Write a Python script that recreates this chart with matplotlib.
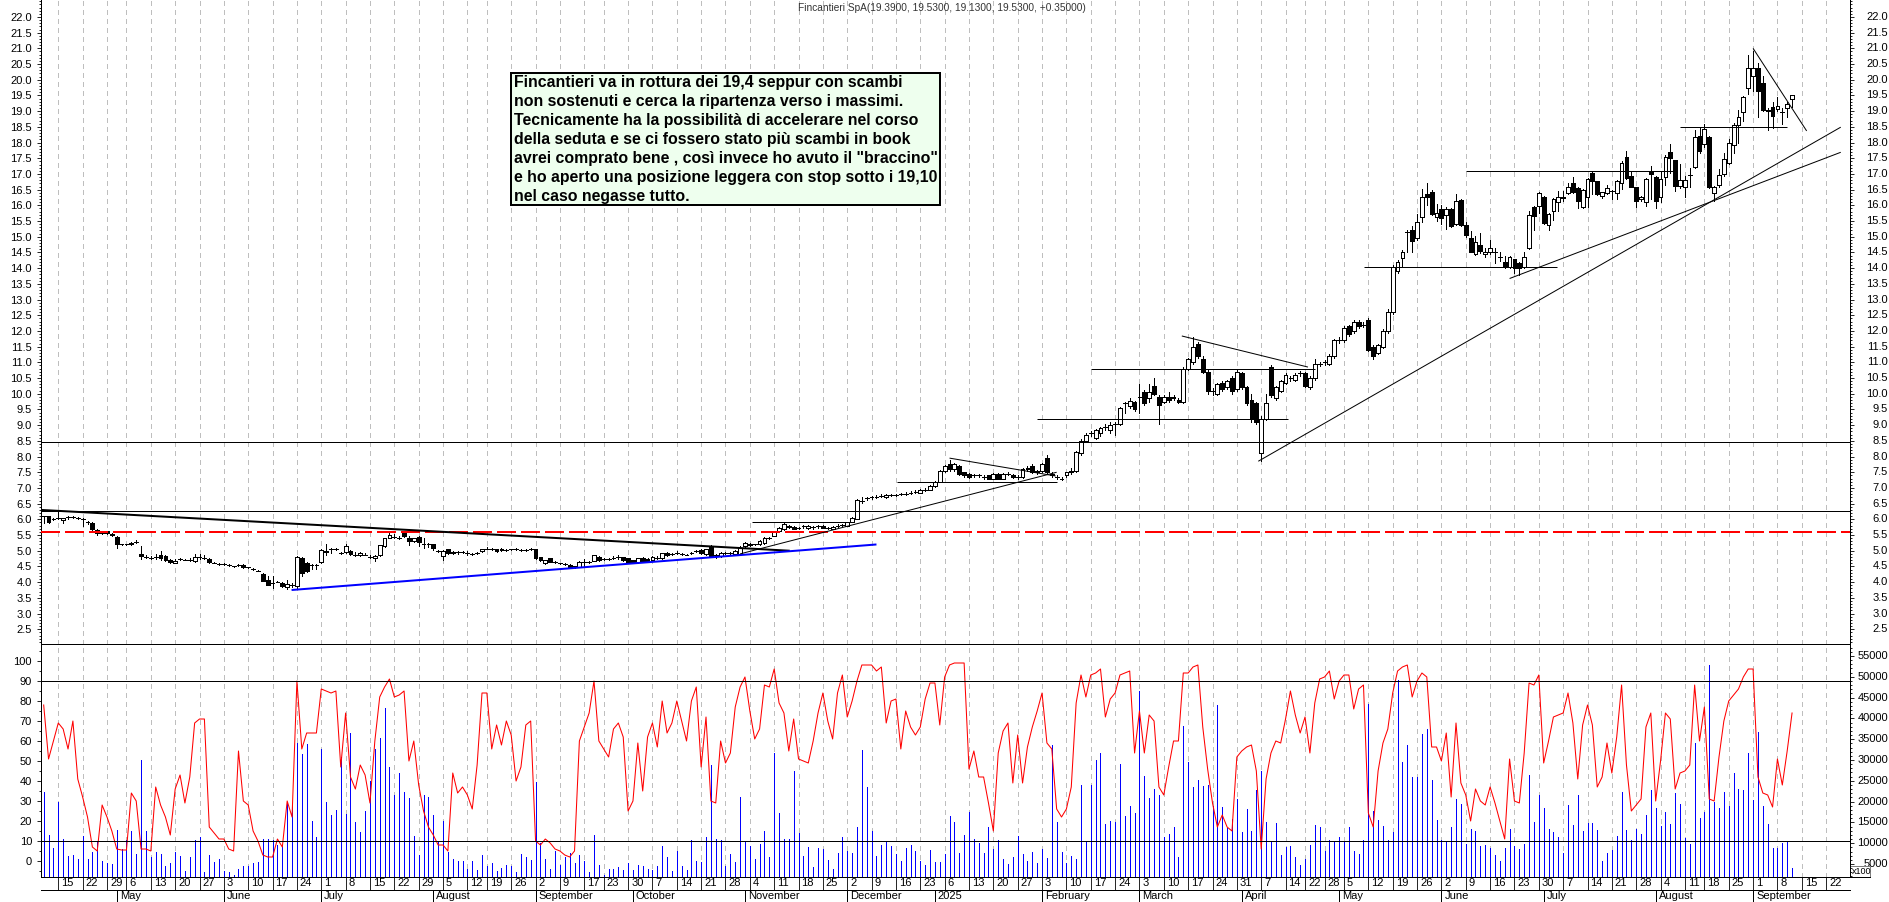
# Fincantieri SpA - candele giornaliere, RSI e volumi
import numpy as np
import matplotlib
matplotlib.use("Agg")
import matplotlib.pyplot as plt
from matplotlib.patches import Rectangle

# ----------------- dati -----------------
opens = [
    6.10,6.10,6.00,6.05,5.98,6.06,6.07,6.04,6.00,5.92,
    5.89,5.65,5.60,5.62,5.54,5.45,5.20,5.20,5.20,5.28,
    4.90,4.80,4.78,4.80,4.88,4.82,4.70,4.62,4.73,4.72,
    4.72,4.68,4.80,4.78,4.75,4.62,4.58,4.58,4.55,4.50,
    4.55,4.55,4.47,4.42,4.37,4.25,4.08,3.97,4.02,3.97,
    3.83,3.92,3.87,4.78,4.60,4.55,4.55,4.65,4.95,5.05,
    5.05,4.93,4.95,5.00,4.88,4.85,4.88,4.80,4.78,4.85,
    5.15,5.42,5.45,5.42,5.55,5.42,5.32,5.45,5.20,5.20,
    5.20,5.00,4.83,5.05,4.92,4.95,4.95,4.93,4.90,4.93,
    4.98,5.07,5.05,5.05,5.02,5.03,5.05,5.05,5.03,5.01,
    5.05,5.05,4.79,4.60,4.76,4.63,4.60,4.57,4.55,4.50,
    4.49,4.65,4.65,4.68,4.80,4.75,4.74,4.76,4.79,4.79,
    4.76,4.70,4.63,4.78,4.75,4.70,4.76,4.76,4.94,4.90,
    4.93,4.90,4.88,4.94,4.98,5.02,4.90,5.13,4.86,4.83,
    4.94,4.92,4.90,4.90,5.15,5.23,5.20,5.20,5.25,5.40,
    5.48,5.62,5.70,5.80,5.75,5.72,5.78,5.72,5.75,5.78,
    5.80,5.72,5.70,5.80,5.82,5.80,5.92,6.02,6.60,6.68,
    6.70,6.72,6.75,6.70,6.78,6.78,6.80,6.82,6.85,6.88,
    6.85,6.95,6.95,7.05,7.20,7.55,7.75,7.60,7.70,7.50,
    7.45,7.40,7.40,7.35,7.40,7.30,7.45,7.30,7.45,7.42,
    7.35,7.35,7.60,7.70,7.50,7.55,7.95,7.45,7.35,7.30,
    7.40,7.50,7.55,8.10,8.50,8.75,8.60,8.75,8.95,8.85,
    9.05,9.05,9.70,9.62,9.75,9.90,10.07,9.88,10.25,9.90,
    9.75,9.90,9.85,9.80,9.75,10.80,11.00,11.60,11.10,10.70,
    10.10,10.00,10.35,10.20,10.50,10.15,10.65,10.20,9.80,9.70,
    8.10,9.20,10.85,9.85,10.10,10.35,10.50,10.45,10.65,10.65,
    10.20,10.50,10.95,11.00,10.95,11.20,11.70,11.70,12.15,12.00,
    12.30,12.20,12.35,11.50,11.30,11.50,12.00,12.60,13.90,14.32,
    15.15,15.22,14.96,15.64,16.37,16.42,15.64,15.88,15.70,15.89,
    15.40,16.18,15.38,14.95,14.45,14.74,14.45,14.53,14.50,14.36,
    14.20,14.04,14.28,14.15,14.04,14.63,15.94,15.99,16.28,15.39,
    15.82,16.12,16.26,16.38,16.72,16.54,15.96,16.28,17.02,16.76,
    16.30,16.40,16.47,16.38,16.70,17.53,16.94,16.57,16.19,16.11,
    17.06,16.89,16.26,16.91,17.69,17.43,16.63,16.57,16.98,17.23,
    18.21,17.96,18.17,16.38,16.64,16.99,17.36,17.91,18.55,18.96,
    19.73,20.11,20.39,19.91,19.05,19.13,19.06,18.96,19.09,19.39,
]
closes = [
    6.10,5.91,6.00,6.05,6.04,6.06,6.07,6.04,6.00,5.92,
    5.68,5.55,5.55,5.55,5.50,5.20,5.20,5.20,5.26,5.28,
    4.83,4.80,4.78,4.80,4.78,4.72,4.65,4.68,4.73,4.72,
    4.72,4.80,4.80,4.78,4.65,4.62,4.58,4.58,4.55,4.50,
    4.55,4.47,4.47,4.42,4.37,4.05,3.92,3.97,4.02,3.88,
    3.93,3.92,4.80,4.30,4.35,4.55,4.55,5.03,5.00,5.05,
    5.05,4.93,5.15,4.90,4.88,4.93,4.88,4.80,4.83,5.17,
    5.40,5.50,5.45,5.42,5.48,5.30,5.40,5.28,5.20,5.20,
    5.08,5.00,5.00,4.92,4.97,4.95,4.95,4.93,4.90,4.93,
    5.05,5.07,5.05,4.98,5.06,5.03,5.05,5.05,5.03,5.03,
    5.05,4.76,4.70,4.70,4.65,4.63,4.60,4.57,4.47,4.50,
    4.65,4.65,4.65,4.86,4.70,4.75,4.74,4.76,4.79,4.70,
    4.63,4.63,4.76,4.65,4.65,4.80,4.76,4.92,4.85,4.90,
    4.93,4.90,4.88,4.94,4.98,4.92,5.04,4.83,4.86,4.94,
    4.94,4.92,5.00,5.08,5.25,5.18,5.20,5.32,5.42,5.40,
    5.60,5.72,5.85,5.75,5.70,5.72,5.78,5.80,5.75,5.78,
    5.74,5.72,5.75,5.80,5.82,5.90,6.05,6.62,6.60,6.68,
    6.70,6.72,6.75,6.78,6.78,6.78,6.80,6.82,6.85,6.88,
    6.95,6.95,7.05,7.20,7.55,7.70,7.60,7.75,7.45,7.40,
    7.35,7.40,7.40,7.35,7.30,7.45,7.30,7.45,7.45,7.35,
    7.35,7.60,7.65,7.50,7.55,7.75,7.50,7.40,7.35,7.30,
    7.50,7.55,8.15,8.50,8.70,8.75,8.85,8.92,8.95,9.00,
    9.05,9.55,9.70,9.78,9.50,9.90,9.70,10.05,10.00,9.65,
    9.90,9.80,9.90,9.75,10.80,11.10,11.50,11.20,10.70,10.10,
    10.10,10.30,10.15,10.40,10.10,10.70,10.20,9.70,9.20,9.10,
    9.20,9.70,9.95,10.20,10.40,10.60,10.50,10.60,10.65,10.25,
    10.50,10.95,10.95,11.00,11.20,11.70,11.70,12.10,11.90,12.30,
    12.15,12.20,11.40,11.20,11.55,12.00,12.60,14.05,14.20,14.51,
    15.15,14.85,15.46,16.28,16.28,15.73,15.75,15.61,15.88,15.33,
    16.15,15.36,15.06,14.53,14.82,14.56,14.53,14.64,14.50,14.36,
    14.04,14.36,14.02,13.99,14.36,15.69,15.67,16.38,15.45,15.74,
    16.21,16.28,16.22,16.60,16.44,16.15,16.49,16.83,16.76,16.36,
    16.41,16.56,16.47,16.76,17.36,16.86,16.60,16.15,16.26,16.83,
    17.00,16.15,16.83,17.55,17.50,16.63,16.81,16.81,16.98,18.19,
    17.74,18.43,16.60,16.60,16.97,17.47,17.98,18.56,18.81,19.45,
    20.39,20.39,19.63,19.04,19.00,18.86,19.15,18.96,19.22,19.53,
]
highs = [
    6.12,6.12,6.03,6.27,6.05,6.10,6.12,6.07,6.05,5.96,
    5.90,5.68,5.62,5.64,5.56,5.47,5.22,5.23,5.28,5.33,
    5.15,4.85,4.82,4.90,5.00,4.85,4.75,4.75,4.76,4.75,
    4.78,4.90,4.90,4.85,4.77,4.65,4.60,4.60,4.57,4.52,
    4.58,4.57,4.49,4.45,4.40,4.28,4.20,4.20,4.05,4.00,
    4.08,3.98,4.82,4.80,4.65,4.57,4.57,5.05,5.20,5.08,
    5.08,4.96,5.20,5.02,4.95,4.96,4.92,4.85,4.85,5.19,
    5.42,5.58,5.52,5.48,5.60,5.48,5.42,5.48,5.40,5.25,
    5.22,5.03,5.02,5.07,4.99,4.98,4.98,5.00,4.93,4.96,
    5.07,5.12,5.08,5.07,5.08,5.05,5.07,5.08,5.05,5.05,
    5.08,5.07,4.81,4.72,4.78,4.66,4.62,4.60,4.57,4.53,
    4.67,4.75,4.68,4.88,4.82,4.78,4.77,4.82,4.85,4.81,
    4.78,4.72,4.78,4.80,4.77,4.82,4.82,4.94,4.96,4.93,
    4.98,4.94,4.91,4.97,5.02,5.05,5.06,5.17,4.90,4.96,
    4.97,4.95,5.02,5.15,5.27,5.26,5.23,5.34,5.44,5.43,
    5.62,5.75,5.90,5.83,5.78,5.76,5.82,5.82,5.80,5.82,
    5.82,5.76,5.78,5.85,5.86,5.92,6.08,6.64,6.70,6.72,
    6.74,6.76,6.80,6.80,6.82,6.82,6.84,6.86,6.89,6.92,
    6.97,6.99,7.08,7.22,7.58,7.72,7.90,7.78,7.72,7.52,
    7.47,7.45,7.45,7.40,7.42,7.47,7.47,7.47,7.50,7.44,
    7.40,7.62,7.70,7.75,7.58,7.78,8.05,7.50,7.40,7.35,
    7.52,7.65,8.18,8.55,8.75,8.80,8.88,8.95,9.05,9.10,
    9.10,9.58,9.75,9.88,9.78,10.30,10.12,10.30,10.50,9.95,
    9.95,10.05,9.95,9.85,10.85,11.15,11.80,11.65,11.20,10.80,
    10.18,10.35,10.40,10.45,10.55,10.75,10.70,10.25,10.00,9.75,
    9.30,10.00,10.90,10.25,10.45,10.65,10.58,10.65,10.72,10.70,
    10.55,11.10,11.02,11.08,11.25,11.75,11.80,12.15,12.20,12.35,
    12.35,12.28,12.40,11.55,11.60,12.05,12.70,14.10,14.26,14.58,
    15.22,15.33,15.73,16.52,16.70,16.50,16.05,16.02,15.94,15.93,
    16.37,16.20,15.46,15.19,15.03,15.13,14.64,14.90,14.64,14.51,
    14.39,14.40,14.30,14.20,14.52,15.83,15.97,16.41,16.30,15.77,
    16.25,16.47,16.45,16.70,16.90,16.58,16.52,16.87,17.05,16.78,
    16.44,16.65,16.50,16.81,17.40,17.74,17.08,16.60,16.30,16.86,
    17.26,16.95,17.07,17.60,17.95,17.46,17.33,16.92,17.18,18.40,
    18.45,18.60,18.20,16.63,17.15,17.66,18.11,18.63,19.05,19.48,
    20.79,20.90,20.53,20.12,19.10,19.28,19.45,19.10,19.30,19.53,
]
lows = [
    5.87,5.88,5.97,6.00,5.88,6.02,6.04,6.00,5.80,5.85,
    5.66,5.50,5.52,5.53,5.47,5.10,5.17,5.17,5.18,5.25,
    4.73,4.76,4.75,4.75,4.72,4.68,4.62,4.60,4.70,4.69,
    4.68,4.65,4.75,4.74,4.62,4.60,4.55,4.55,4.52,4.48,
    4.52,4.45,4.44,4.40,4.34,4.03,3.90,3.82,3.99,3.85,
    3.78,3.85,3.78,4.20,4.33,4.42,4.42,4.60,4.85,4.92,
    5.02,4.90,4.93,4.87,4.84,4.82,4.85,4.77,4.68,4.83,
    5.13,5.40,5.42,5.38,5.45,5.18,5.28,5.15,5.10,5.12,
    5.03,4.97,4.70,4.90,4.90,4.90,4.92,4.88,4.86,4.90,
    4.96,5.04,5.02,4.96,5.00,5.00,5.02,5.02,5.00,4.99,
    5.02,4.74,4.68,4.58,4.63,4.60,4.58,4.54,4.45,4.46,
    4.47,4.50,4.62,4.66,4.68,4.70,4.71,4.73,4.75,4.68,
    4.61,4.60,4.61,4.63,4.63,4.68,4.73,4.74,4.83,4.87,
    4.90,4.87,4.85,4.90,4.95,4.90,4.88,4.80,4.78,4.81,
    4.90,4.89,4.88,4.88,5.13,5.16,5.17,5.18,5.23,5.37,
    5.46,5.60,5.65,5.72,5.68,5.68,5.74,5.70,5.70,5.74,
    5.72,5.68,5.68,5.76,5.78,5.78,5.90,6.00,6.52,6.62,
    6.66,6.68,6.70,6.68,6.74,6.74,6.76,6.78,6.81,6.84,
    6.83,6.91,6.93,7.03,7.18,7.50,7.55,7.55,7.42,7.36,
    7.33,7.35,7.35,7.30,7.28,7.28,7.28,7.28,7.40,7.33,
    7.30,7.33,7.55,7.48,7.45,7.50,7.45,7.35,7.30,7.25,
    7.35,7.45,7.50,8.05,8.45,8.65,8.55,8.65,8.85,8.75,
    8.70,9.02,9.40,9.55,9.45,9.40,9.65,9.75,9.95,9.05,
    9.70,9.75,9.80,9.70,9.70,10.75,10.95,11.15,10.65,10.00,
    9.95,9.95,10.10,10.15,10.00,10.10,10.15,9.65,9.10,9.05,
    7.85,9.15,9.90,9.80,10.05,10.30,10.42,10.40,10.58,10.20,
    10.15,10.45,10.88,10.92,10.90,11.15,11.62,11.65,11.85,11.95,
    12.10,12.12,11.35,11.10,11.25,11.45,11.95,12.55,13.85,14.05,
    14.53,14.53,14.90,15.48,16.01,15.70,15.50,15.40,15.25,15.30,
    15.38,15.34,15.00,14.50,14.42,14.48,14.35,14.45,14.16,14.24,
    14.00,14.00,13.85,13.78,14.00,14.60,15.20,15.75,15.40,15.20,
    15.53,15.81,16.15,16.35,16.40,15.90,15.93,15.96,16.36,16.32,
    16.22,16.37,16.20,16.20,16.52,16.83,16.57,15.94,16.15,15.98,
    16.20,15.93,16.12,16.64,17.04,16.47,16.55,16.27,16.60,17.20,
    17.68,17.87,16.55,16.15,16.60,16.95,17.32,17.67,18.00,18.68,
    19.55,19.65,18.82,19.00,18.40,18.45,19.00,18.60,18.80,19.13,
]
rsi = [
    78,51,60,69,66,56,70,41,32,22,
    7,5,28,22,15,6,5.5,5.5,34,30,
    6,6,5,37,28,22,13,36,43,29,
    42,69,71,71,17,14,11,11,6,5,
    55,30,28,15,10,3,2,2,11,7,
    30,22,90,56,64,64,64,86,85,84,
    85,47,74,42,36,48,43,29,60,82,
    87,91,82,83,85,50,60,38,25,17,
    13,8,8,5,44,34,37,33,26,48,
    84,84,56,68,58,70,63,40,47,68,
    70,10,8,11,9,6,5,3,2,5,
    60,67,74,90,60,56,52,66,69,62,
    25,30,59,35,62,69,57,80,64,69,
    80,70,60,80,87,47,72,30,29,60,
    49,54,77,87,92,75,61,66,88,87,
    96,79,74,55,71,51,50,49,60,74,
    84,70,61,84,93,72,80,90,98,98,
    98,95,97,69,80,81,56,75,67,63,
    67,81,89,89,68,92,98,99,99,99,
    46,55,42,42,29,15,54,65,69,39,
    63,39,57,67,75,84,59,56,26,22,
    26,37,79,93,82,93,94,96,72,81,
    84,93,94,95,54,75,54,73,70,37,
    33,47,60,60,94,94,97,98,67,46,
    29,17,23,17,15,52,55,57,58,45,
    6,41,54,60,59,71,85,73,64,72,
    54,79,91,92,95,81,90,93,93,76,
    86,88,24,17,45,59,66,84,95,97,
    98,82,90,94,92,57,57,50,64,32,
    69,39,33,20,36,30,28,37,29,20,
    11,51,30,29,54,89,88,93,49,60,
    72,73,74,84,69,41,68,78,68,37,
    42,59,44,62,88,48,25,28,31,67,
    74,30,50,74,71,36,44,45,48,88,
    60,77,31,30,52,70,80,83,86,92,
    96,96,42,34,33,27,51,38,55,74,
]
volumes = [
    22400,12000,8800,19800,11000,7000,7200,6200,11800,6200,
    8000,10600,5800,5200,5000,13200,8600,10800,13000,7400,
    30000,13000,6600,7800,7400,4400,5200,7800,7000,3400,
    6600,10800,11400,3000,7200,5600,6200,3200,3100,2400,
    3800,4600,4600,5200,5600,11000,11000,10800,9600,9400,
    19600,19200,34200,31400,33800,15400,11400,32600,19800,16800,
    18000,30800,17000,36400,15000,12700,17800,25000,32600,35400,
    42500,28400,21700,26800,22400,20800,11800,7200,21600,21000,
    16800,10400,15400,8000,6200,5800,5800,3800,5800,3600,
    7200,4600,5200,3400,4000,4800,4400,3100,7400,6600,
    6000,24600,10000,6200,3800,8200,4800,6600,7600,5200,
    7200,5800,3100,12000,4800,2400,3700,3800,4200,3600,
    5200,3600,4800,4600,3800,3600,4400,9400,6800,3400,
    8200,4600,3600,10800,5800,5400,11400,28800,11000,10800,
    4400,7400,5400,21000,10400,9400,6200,9800,13000,6700,
    31800,17200,11000,11000,27400,12400,7000,9100,4300,8900,
    8600,6000,3800,7700,11500,8200,7700,13900,32400,23400,
    13000,7000,9600,10400,9400,7400,5800,8900,9600,8200,
    5800,4800,8400,5500,5500,7400,16600,15200,7700,12000,
    17500,11000,10100,7700,13900,8700,10800,6200,5000,6700,
    11800,7400,5800,7900,5300,8600,6500,33600,15100,7900,
    5300,7000,6200,24000,10400,24000,30000,31700,14600,15400,
    15100,29000,16600,19000,17300,46600,26200,20900,23000,21600,
    11500,12200,13900,6700,38200,29500,23500,25200,23800,24000,
    19000,43200,18700,13700,15800,20600,12700,18200,13000,22800,
    27400,15200,10400,14800,7200,9200,9400,6800,4800,6200,
    9600,14400,13800,8200,10800,10400,11600,10400,13800,8200,
    7400,10800,43500,17800,15600,14200,10800,12600,49200,29400,
    33600,26000,26000,36200,37400,25200,15600,10800,10400,14000,
    20600,19400,9800,13400,13000,9400,9600,8900,7200,5800,
    8900,13400,9400,8600,9800,26400,15000,21600,18500,13400,
    12700,11500,7600,19200,14400,21600,13000,14900,14900,13200,
    5800,7700,8400,11800,22300,13200,10800,13400,12200,16800,
    22800,18500,14200,17500,14600,22100,19400,11300,9800,34000,
    16000,17500,52800,20000,18400,22200,19000,26800,23000,22800,
    31800,20400,36800,19000,14600,8900,8900,10000,10400,4000,
]

day_ticks = [
    3,8,13,17,22,27,32,37,42,47,
    52,57,62,67,72,77,82,87,91,96,
    101,106,111,115,120,125,130,135,140,145,
    150,155,160,165,170,175,180,185,190,195,
    200,205,210,215,220,225,230,235,240,245,
    250,255,259,263,267,272,277,282,287,292,
    297,302,307,312,317,322,327,332,337,341,
    346,351,356,361,366,
]
day_labels = [
    15,22,29,6,13,20,27,3,10,17,
    24,1,8,15,22,29,5,12,19,26,
    2,9,17,23,30,7,14,21,28,4,
    11,18,25,2,9,16,23,6,13,20,
    27,3,10,17,24,3,10,17,24,31,
    7,14,22,28,5,12,19,26,2,9,
    16,23,30,7,14,21,28,4,11,18,
    25,1,8,15,22,
]
month_ticks = [15,37,57,80,101,121,144,165,183,205,225,246,266,287,308,331,351]
month_labels = ["May","June","July","August","September","October","November",
                "December","2025","February","March","April","May","June",
                "July","August","September"]

# livelli orizzontali a tutta larghezza
h_levels = [8.455, 6.25]
dash_level = 5.6

# trendline: indice barra e prezzo di inizio/fine, spessore in punti, colore
trendlines = [
    (-0.55, 6.30, 153.2, 5.00, 1.44, "black"),
    (50.9, 3.75, 171.0, 5.20, 1.44, "#0000ff"),
    (143.0, 4.90, 208.0, 7.50, 0.72, "black"),
    (145.4, 5.90, 166.0, 5.90, 0.72, "black"),
    (175.2, 7.20, 208.0, 7.20, 0.72, "black"),
    (186.0, 7.95, 207.8, 7.38, 0.72, "black"),
    (204.0, 9.20, 255.5, 9.20, 0.72, "black"),
    (215.0, 10.80, 261.0, 10.80, 0.72, "black"),
    (233.7, 11.84, 259.6, 10.85, 0.72, "black"),
    (271.1, 14.05, 310.7, 14.05, 0.72, "black"),
    (292.0, 17.09, 335.0, 17.09, 0.72, "black"),
    (336.0, 18.50, 358.0, 18.50, 0.72, "black"),
    (249.4, 7.85, 369.0, 18.49, 0.72, "black"),
    (301.0, 13.67, 369.0, 17.69, 0.72, "black"),
    (351.0, 21.00, 362.0, 18.37, 0.72, "black"),
]

title = "Fincantieri SpA(19.3900, 19.5300, 19.1300, 19.5300, +0.35000)"
note_lines = [
    "Fincantieri va in rottura dei 19,4 seppur con scambi",
    "non sostenuti e cerca la ripartenza verso i massimi.",
    "Tecnicamente ha la possibilità di accelerare nel corso",
    "della seduta e se ci fossero stato più scambi in book",
    "avrei comprato bene , così invece ho avuto il \"braccino\"",
    "e ho aperto una posizione leggera con stop sotto i 19,10",
    "nel caso negasse tutto.",
]

# ----------------- stile e layout (pixel dell'immagine) -----------------
W, H = 1890, 902
PX = 0.72  # un pixel in punti a dpi 100
LEFT, RIGHT, PANEL_SPLIT, PANEL_BOTTOM = 41, 1850, 644, 877

plt.rcParams.update({
    "font.family": ["Liberation Sans", "DejaVu Sans"],
    "font.size": 8,
    "lines.antialiased": False,
    "patch.antialiased": False,
    "lines.scale_dashes": False,
    "axes.linewidth": PX,
})

fig = plt.figure(figsize=(W / 100, H / 100), dpi=100, facecolor="white")


def _box(top, bottom):
    return [LEFT / W, 1 - bottom / H, (RIGHT - LEFT) / W, (bottom - top) / H]


ax_price = fig.add_axes(_box(0, PANEL_SPLIT))
ax_rsi = fig.add_axes(_box(PANEL_SPLIT, PANEL_BOTTOM))
ax_vol = ax_rsi.twinx()
ax_rsi.set_zorder(2)
ax_vol.set_zorder(1)
ax_rsi.patch.set_visible(False)

x = np.arange(len(closes))
o = np.array(opens)
c = np.array(closes)
hi = np.array(highs)
lo = np.array(lows)

for ax in (ax_price, ax_rsi, ax_vol):
    ax.set_xlim(-0.55, 370.9)
ax_price.set_ylim(2.03, 22.54)
ax_rsi.set_ylim(-8, 108.5)
ax_vol.set_ylim(1875, 57885)

# griglia settimanale
for ax in (ax_price, ax_vol):
    for t in day_ticks:
        ax.axvline(t, color="#bebebe", lw=0.6, ls=(0, (3, 3.2)), zorder=0.5)

# candele
ax_price.vlines(x, lo, hi, color="black", lw=0.6, antialiased=False, zorder=2)
up = c >= o
ax_price.bar(x[up], (c - o)[up], bottom=o[up], width=0.78, facecolor="white",
             edgecolor="black", linewidth=0.6, zorder=3)
ax_price.bar(x[~up], (c - o)[~up], bottom=o[~up], width=0.78, facecolor="black",
             edgecolor="black", linewidth=0.6, zorder=3)

# livelli e trendline
for lev in h_levels:
    ax_price.axhline(lev, color="black", lw=0.7, zorder=4)
ax_price.axhline(dash_level, color="#ff0000", lw=1.3, ls=(0, (13, 4.3)), zorder=4)
for x0, y0, x1, y1, lw, col in trendlines:
    ax_price.plot([x0, x1], [y0, y1], color=col, lw=lw, zorder=4,
                  solid_capstyle="butt", antialiased=True)

# pannello inferiore: volumi sotto, RSI sopra
ax_vol.vlines(x, 1875, volumes, color="#0000ff", lw=0.65, antialiased=False, zorder=2)
ax_rsi.plot(x, rsi, color="#ff0000", lw=0.75, zorder=3, antialiased=True)
ax_rsi.axhline(90, color="black", lw=0.7, zorder=4)
ax_rsi.axhline(10, color="black", lw=0.7, zorder=4)

# assi prezzo
price_major = np.arange(2.5, 22.01, 0.5)
price_minor = np.arange(2.1, 22.51, 0.1)
ax_price.set_yticks(price_major)
ax_price.set_yticks(price_minor, minor=True)
ax_price.set_yticklabels([f"{v:.1f}" for v in price_major])
ax_price.tick_params(axis="y", which="major", left=True, right=True, labelleft=True,
                     labelright=False, direction="out", length=4 * PX, width=0.6, pad=3.6)
ax_price.tick_params(axis="y", which="minor", left=True, right=True, direction="out",
                     length=2 * PX, width=0.6)
ax_price.tick_params(axis="x", bottom=False, labelbottom=False)
ax_price.spines["top"].set_visible(False)
ax_price.spines["bottom"].set_linewidth(0.7)

# etichette prezzo a destra, allineate al bordo immagine
for v in price_major:
    ax_price.annotate(f"{v:.1f}", xy=(1, v), xycoords=ax_price.get_yaxis_transform(),
                      xytext=(27.4, 0), textcoords="offset points",
                      ha="right", va="center", fontsize=8)

# assi RSI / volumi
ax_rsi.set_yticks(np.arange(0, 101, 10))
ax_rsi.set_yticks(np.arange(-5, 106, 5), minor=True)
ax_rsi.tick_params(axis="y", which="major", direction="out", length=4 * PX, width=0.6, pad=3.6)
ax_rsi.tick_params(axis="y", which="minor", direction="out", length=2 * PX, width=0.6)
ax_rsi.spines["top"].set_visible(False)
ax_vol.spines["top"].set_visible(False)

vol_major = np.arange(5000, 55001, 5000)
ax_vol.set_yticks(vol_major)
ax_vol.set_yticks(np.arange(2000, 57001, 1000), minor=True)
ax_vol.tick_params(axis="y", which="major", direction="out", length=4 * PX, width=0.6,
                   labelright=False)
ax_vol.tick_params(axis="y", which="minor", direction="out", length=2 * PX, width=0.6)
for v in vol_major:
    ax_vol.annotate(str(v), xy=(1, v), xycoords=ax_vol.get_yaxis_transform(),
                    xytext=(27.4, 0), textcoords="offset points",
                    ha="right", va="center", fontsize=8)

# asse date: settimane e mesi
row = 13 / (PANEL_BOTTOM - PANEL_SPLIT)
trans = ax_rsi.get_xaxis_transform()
ax_vol.tick_params(axis="x", bottom=False, labelbottom=False)
ax_rsi.set_xticks(day_ticks)
ax_rsi.set_xticklabels([])
ax_rsi.tick_params(axis="x", which="major", direction="out", length=13 * PX, width=0.6)
for t, lab in zip(day_ticks, day_labels):
    ax_rsi.annotate(str(lab), xy=(t, 0), xycoords=trans, xytext=(3 * PX, -6.5 * PX),
                    textcoords="offset points", ha="left", va="center", fontsize=8)
ax_rsi.plot([0, 1], [-row, -row], transform=ax_rsi.transAxes, color="black",
            lw=0.7, clip_on=False)
ax_rsi.plot([1, 1.011], [0, 0], transform=ax_rsi.transAxes, color="black", lw=0.6, clip_on=False)
for t, lab in zip(month_ticks, month_labels):
    ax_rsi.plot([t, t], [-row, -row * 2], transform=trans, color="black", lw=0.6, clip_on=False)
    ax_rsi.annotate(lab, xy=(t, -row), xycoords=trans, xytext=(3 * PX, -6 * PX),
                    textcoords="offset points", ha="left", va="center", fontsize=8)

# riquadro x100
fig.add_artist(plt.Line2D([RIGHT / W, 1870 / W], [1 - 866 / H] * 2, color="#808080", lw=0.6))
fig.add_artist(plt.Line2D([1870 / W] * 2, [1 - 866 / H, 1 - 877 / H], color="#808080", lw=0.6))
fig.text(1852 / W, 1 - 872 / H, "x100", fontsize=6.5, va="center", ha="left")

# titolo e nota
fig.text(942 / W, 1 - 8 / H, title, fontsize=7.3, color="#333333", ha="center", va="center")
fig.add_artist(Rectangle((511 / W, 1 - 205 / H), 429 / W, 132 / H, transform=fig.transFigure,
                         facecolor="#eeffee", edgecolor="black", linewidth=1.3, zorder=5))
for k, line in enumerate(note_lines):
    fig.text(514.5 / W, 1 - (86.7 + 19 * k) / H, line, fontsize=11.4, fontweight="bold",
             ha="left", va="baseline", zorder=6)

fig.savefig("out.png", dpi=100)
